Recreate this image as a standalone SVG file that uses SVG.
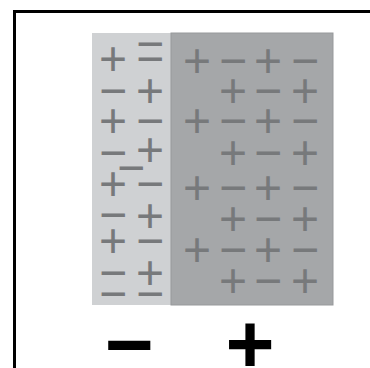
<svg xmlns="http://www.w3.org/2000/svg" width="370" height="368" viewBox="0 0 370 368">
<style>
.s{font-family:"Liberation Sans",Arial,sans-serif;font-size:48px;fill:#77797b;text-anchor:middle}
.b{font-family:"Liberation Sans",Arial,sans-serif;font-weight:bold;font-size:84px;fill:#000;text-anchor:middle}
</style>
<rect width="370" height="368" fill="#fff"/>
<path d="M14.5 370 V11.5 H372" fill="none" stroke="#000" stroke-width="3"/>
<g id="light-panel">
<rect x="92" y="33" width="79" height="272" fill="#cfd1d3"/>
<text class="s" x="150" y="60">−</text>
<text class="s" x="113" y="75">+</text><text class="s" x="150" y="75">−</text>
<text class="s" x="113" y="107">−</text><text class="s" x="150" y="107">+</text>
<text class="s" x="113" y="137">+</text><text class="s" x="150" y="137">−</text>
<text class="s" x="113" y="169">−</text><text class="s" x="150" y="166">+</text>
<text class="s" x="131" y="184">−</text>
<text class="s" x="113" y="200">+</text><text class="s" x="150" y="200">−</text>
<text class="s" x="113" y="231">−</text><text class="s" x="150" y="232">+</text>
<text class="s" x="113" y="257">+</text><text class="s" x="150" y="257">−</text>
<text class="s" x="113" y="289">−</text><text class="s" x="150" y="289">+</text>
<text class="s" x="113" y="310">−</text><text class="s" x="150" y="310">−</text>
</g>
<g id="dark-panel">
<rect x="171" y="33" width="162" height="272" fill="#a5a7a9" stroke="#97999b" stroke-width="1"/>
<text class="s" x="197" y="77">+</text><text class="s" x="233" y="77">−</text><text class="s" x="268" y="77">+</text><text class="s" x="305" y="77">−</text>
<text class="s" x="233" y="107">+</text><text class="s" x="268" y="107">−</text><text class="s" x="305" y="107">+</text>
<text class="s" x="197" y="137">+</text><text class="s" x="233" y="137">−</text><text class="s" x="268" y="137">+</text><text class="s" x="305" y="137">−</text>
<text class="s" x="233" y="169">+</text><text class="s" x="268" y="169">−</text><text class="s" x="305" y="169">+</text>
<text class="s" x="197" y="204">+</text><text class="s" x="233" y="204">−</text><text class="s" x="268" y="204">+</text><text class="s" x="305" y="204">−</text>
<text class="s" x="233" y="235">+</text><text class="s" x="268" y="235">−</text><text class="s" x="305" y="235">+</text>
<text class="s" x="197" y="266">+</text><text class="s" x="233" y="266">−</text><text class="s" x="268" y="266">+</text><text class="s" x="305" y="266">−</text>
<text class="s" x="233" y="297">+</text><text class="s" x="268" y="297">−</text><text class="s" x="305" y="297">+</text>
</g>
<g id="labels">
<text class="b" x="129" y="373">−</text>
<text class="b" x="250" y="373">+</text>
</g>
</svg>
